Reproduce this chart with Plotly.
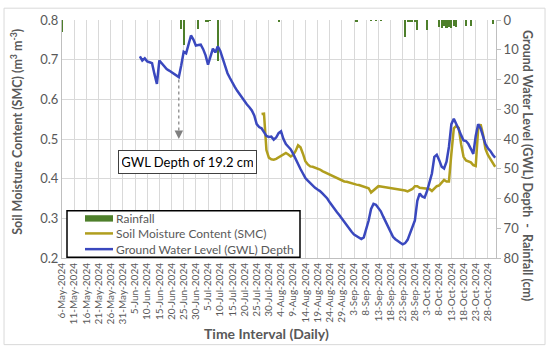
import pandas as pd
import plotly.graph_objects as go

# ---------------- data ----------------
gwl_start = "2024-06-07"
gwl_depth_cm = [12.2, 13.6, 12.9, 13.9, 14.2, 14.5, 18.2, 21.5, 13.6, 14.5, 15.5, 16.5, 17.0, 17.5, 18.2, 18.7,
                19.2, 15.2, 10.7, 11.2, 8.3, 5.2, 6.6, 8.6, 8.4, 8.3, 9.8, 11.9, 15.0, 11.9, 9.6, 10.9,
                8.9, 10.3, 12.9, 15.5, 17.9, 19.5, 21.2, 22.5, 23.8, 25.0, 26.1, 27.6, 28.4, 29.3, 30.4, 32.1,
                35.0, 36.0, 36.4, 37.7, 39.0, 39.3, 39.2, 40.2, 39.5, 38.0, 37.4, 40.0, 41.7, 42.6, 43.5, 45.0,
                46.9, 48.6, 50.1, 51.6, 53.1, 54.0, 54.9, 55.7, 56.4, 57.0, 57.5, 58.3, 59.2, 60.0, 61.3, 62.5,
                63.6, 64.6, 65.6, 66.8, 67.9, 69.1, 70.2, 71.2, 72.1, 72.7, 73.2, 73.6, 73.1, 70.4, 67.4, 63.5,
                61.8, 62.1, 63.1, 64.3, 66.1, 67.9, 69.8, 71.7, 72.9, 73.7, 74.4, 74.9, 75.4, 75.0, 73.9, 71.7,
                70.1, 67.4, 60.8, 58.3, 59.3, 59.7, 57.5, 54.0, 51.6, 46.0, 45.3, 47.1, 49.3, 49.9, 47.6, 42.6,
                35.0, 33.2, 34.7, 36.7, 38.7, 40.5, 40.7, 41.7, 43.3, 45.0, 39.0, 35.0, 36.4, 39.0, 41.7, 43.1,
                44.0, 45.3, 46.3]

smc_start = "2024-07-27"
smc_values = [0.563, 0.564, 0.472, 0.453, 0.449, 0.448, 0.450, 0.454, 0.459, 0.462, 0.465, 0.461, 0.456, 0.460,
              0.470, 0.484, 0.479, 0.463, 0.444, 0.436, 0.431, 0.430, 0.428, 0.427, 0.423, 0.419, 0.416, 0.413,
              0.410, 0.407, 0.404, 0.401, 0.398, 0.395, 0.393, 0.392, 0.390, 0.388, 0.387, 0.385, 0.384, 0.382,
              0.381, 0.378, 0.376, 0.365, 0.370, 0.376, 0.381, 0.380, 0.379, 0.379, 0.378, 0.377, 0.376, 0.374,
              0.373, 0.372, 0.371, 0.370, 0.368, 0.371, 0.374, 0.381, 0.381, 0.377, 0.376, 0.375, 0.375, 0.374,
              0.369, 0.376, 0.381, 0.383, 0.391, 0.397, 0.393, 0.393, 0.463, 0.527, 0.533, 0.528, 0.487, 0.455,
              0.446, 0.444, 0.441, 0.434, 0.432, 0.525, 0.537, 0.512, 0.475, 0.460, 0.449, 0.438, 0.430]

rain_dates = ["2024-05-06", "2024-06-24", "2024-06-25", "2024-07-01", "2024-07-04", "2024-07-05", "2024-07-06",
              "2024-07-09", "2024-08-03", "2024-09-04", "2024-09-10", "2024-09-12", "2024-09-14", "2024-09-24",
              "2024-09-25", "2024-09-26", "2024-09-27", "2024-09-28", "2024-09-29", "2024-10-03", "2024-10-08",
              "2024-10-09", "2024-10-10", "2024-10-11", "2024-10-12", "2024-10-13", "2024-10-14", "2024-10-15",
              "2024-10-19", "2024-10-21", "2024-10-30"]
rain_cm = [4.0, 3.0, 8.5, 3.0, 0.4, 0.4, 0.3,
           13.9, 0.6, 0.8, 0.3, 0.3, 0.3, 5.7,
           0.4, 0.5, 0.4, 0.5, 3.4, 3.5, 2.3,
           2.6, 2.0, 2.6, 2.3, 2.7, 2.0, 2.5,
           1.9, 1.9, 1.3]

series_names = ["Rainfall", "Soil Moisture Content (SMC)", "Ground Water Level (GWL) Depth"]
series_colors = ["#4E7F2B", "#B09E1E", "#3A48BE"]

annot_date = "2024-06-23"
annot_depth = 19.2
annot_text = "GWL Depth of 19.2 cm"

x_range = ["2024-05-06", "2024-10-31 08:00"]
tick_start = "2024-05-06"

# ---------------------------------------------------------------
gwl_dates = pd.date_range(gwl_start, periods=len(gwl_depth_cm), freq="D")
smc_dates = pd.date_range(smc_start, periods=len(smc_values), freq="D")

FONT = "Lato, 'Open Sans', Arial, sans-serif"
GRAY = "#595959"
GRID = "#D9D9D9"
DAY_MS = 86400000

# plot-area geometry (pixels) used to place the hand-made legend
L, R, T, B = 62, 496, 16, 258
def px(x):
    return (x - L) / (R - L)
def py(y):
    return (B - y) / (B - T)

fig = go.Figure()
fig.add_trace(go.Bar(x=rain_dates, y=rain_cm, yaxis="y2", name=series_names[0],
                     marker=dict(color=series_colors[0], line=dict(width=0)), width=0.85 * DAY_MS,
                     showlegend=False))
fig.add_trace(go.Scatter(x=smc_dates, y=smc_values, mode="lines", name=series_names[1],
                         line=dict(color=series_colors[1], width=2.5), showlegend=False))
fig.add_trace(go.Scatter(x=gwl_dates, y=gwl_depth_cm, yaxis="y2", mode="lines", name=series_names[2],
                         line=dict(color=series_colors[2], width=2.5), showlegend=False))

# dashed arrow from the GWL point
fig.add_shape(type="line", xref="x", yref="y2", x0=annot_date, x1=annot_date, y0=annot_depth + 0.8, y1=37.5,
              line=dict(color="#7F7F7F", width=1.2, dash="dot"))
fig.add_annotation(x=annot_date, y=40.0, xref="x", yref="y2", text="", showarrow=True,
                   ax=0, ay=-9, arrowhead=2, arrowsize=1.3, arrowwidth=1.3, arrowcolor="#7F7F7F")
fig.add_annotation(x=0.289, y=0.403, xref="paper", yref="paper", xanchor="center", yanchor="middle",
                   text=annot_text, showarrow=False,
                   font=dict(family=FONT, size=13, color="#000000"), bgcolor="white",
                   bordercolor="#404040", borderwidth=1, borderpad=3, width=131, height=16)

# legend (box, symbols, labels)
fig.add_shape(type="rect", xref="paper", yref="paper", x0=px(67), x1=px(300), y0=py(257.3), y1=py(210),
              line=dict(color="#000000", width=1.5), fillcolor="white")
fig.add_shape(type="rect", xref="paper", yref="paper", x0=px(85), x1=px(113), y0=py(221), y1=py(214.5),
              line=dict(width=0), fillcolor=series_colors[0])
for i, ypix in ((1, 233), (2, 249)):
    fig.add_shape(type="line", xref="paper", yref="paper", x0=px(85), x1=px(113), y0=py(ypix), y1=py(ypix),
                  line=dict(color=series_colors[i], width=2.5))
for i, ypix in enumerate((217.5, 233, 249)):
    fig.add_annotation(x=px(114), y=py(ypix), xref="paper", yref="paper", xanchor="left", yanchor="middle",
                       text=series_names[i], showarrow=False, font=dict(family=FONT, size=12, color=GRAY))

# axis titles as annotations
fig.add_annotation(x=-0.104, y=0.53, xref="paper", yref="paper", xanchor="center", yanchor="middle",
                   textangle=-90, showarrow=False,
                   text="<b>Soil Moisture Content (SMC) (m<sup>3</sup> m<sup>-3</sup>)</b>",
                   font=dict(family=FONT, size=12.5, color=GRAY))
fig.add_annotation(x=1.074, y=0.39, xref="paper", yref="paper", xanchor="center", yanchor="middle",
                   textangle=90, showarrow=False,
                   text="<b>Ground Water Level (GWL) Depth  -  Rainfall (cm)</b>",
                   font=dict(family=FONT, size=12.5, color=GRAY))
fig.add_annotation(x=0.472, y=-0.318, xref="paper", yref="paper", xanchor="center", yanchor="middle",
                   showarrow=False,
                   text="<b>Time Interval (Daily)</b>", font=dict(family=FONT, size=14, color=GRAY))

# outer chart border
fig.add_shape(type="rect", xref="paper", yref="paper", x0=-0.1336, x1=1.113, y0=-0.364, y1=1.0496,
              line=dict(color=GRID, width=1), layer="below")

fig.update_layout(
    width=550, height=351,
    margin=dict(l=L, r=550 - R, t=T, b=351 - B),
    paper_bgcolor="white", plot_bgcolor="white",
    font=dict(family=FONT, color=GRAY),
    bargap=0,
    showlegend=False,
    xaxis=dict(type="date", range=x_range, tick0=tick_start, dtick=5 * DAY_MS,
               tickformat="%-d-%b-%Y", tickangle=-90, tickfont=dict(size=10, color=GRAY),
               showgrid=True, gridcolor=GRID, gridwidth=1, showline=True, linecolor="#BFBFBF",
               zeroline=False, ticks=""),
    yaxis=dict(range=[0.2, 0.8], dtick=0.1, tickformat=".1f", tickfont=dict(size=13, color=GRAY),
               showgrid=True, gridcolor=GRID, gridwidth=1, showline=True, linecolor="#BFBFBF",
               zeroline=False, ticks=""),
    yaxis2=dict(overlaying="y", side="right", range=[80, 0], dtick=10, tickfont=dict(size=13, color=GRAY),
                showgrid=False, showline=True, linecolor="#BFBFBF", ticks="outside", ticklen=4,
                tickcolor="#BFBFBF", zeroline=False),
)

fig.write_html("out.html", config={"displayModeBar": False},
               post_script="document.body.style.margin='0';document.body.style.overflow='hidden';")
